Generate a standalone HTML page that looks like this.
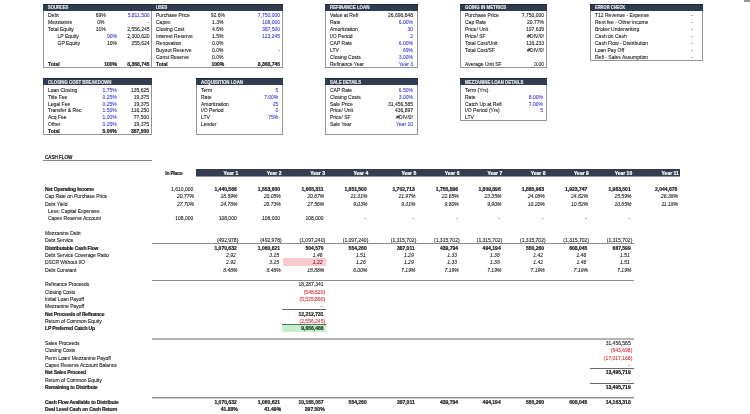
<!DOCTYPE html>
<html><head><meta charset="utf-8"><style>
html,body{margin:0;padding:0;background:#fff;width:750px;height:414px;overflow:hidden;position:relative}
.r{position:absolute}
.t{position:absolute;white-space:nowrap;font-family:"Liberation Sans",sans-serif;font-size:5.0px;line-height:7.0px;color:#1e1e1e}
.b{font-weight:bold}
.i{font-style:italic}
.t{-webkit-text-stroke:0.1px currentColor}
.t.b{-webkit-text-stroke:0.2px currentColor}
#pg{position:absolute;left:0;top:0;width:750px;height:414px;background:#fff;will-change:transform;overflow:hidden}
</style></head><body><div id="pg">
<div class="r" style="left:744px;top:0px;width:6px;height:2px;background:#9a9a9a;"></div>
<div class="r" style="left:43px;top:4px;width:240px;height:64px;box-sizing:border-box;border:1px solid #969696;background:#fff"></div>
<div class="r" style="left:43px;top:4px;width:240px;height:7px;background:#303c52;"></div>
<div class="r" style="left:43px;top:4px;width:240px;height:1px;background:#1e2634;"></div>
<div class="t b" style="top:4.00px;font-size:4.8px;color:#e6e6e6;left:48px;transform-origin:0 0;transform:scaleX(0.854);">SOURCES</div>
<div class="r" style="left:151px;top:4px;width:1px;height:63px;background:#969696;"></div>
<div class="r" style="left:151px;top:4px;width:1px;height:7px;background:#303c52;"></div>
<div class="t b" style="top:4.00px;font-size:4.8px;color:#e6e6e6;left:156px;transform-origin:0 0;transform:scaleX(0.854);">USES</div>
<div class="t" style="top:12.00px;left:48px;">Debt</div>
<div class="t" style="top:12.00px;left:-49.2px;width:300px;text-align:center;">69%</div>
<div class="t" style="top:12.00px;color:#4444d6;left:-150.5px;width:300px;text-align:right;">5,811,500</div>
<div class="t" style="top:19.00px;left:48px;">Mezzanine</div>
<div class="t" style="top:19.00px;left:-49.2px;width:300px;text-align:center;">0%</div>
<div class="t" style="top:19.00px;left:-150.5px;width:300px;text-align:right;">-</div>
<div class="t" style="top:26.00px;left:48px;">Total Equity</div>
<div class="t" style="top:26.00px;left:-49.2px;width:300px;text-align:center;">31%</div>
<div class="t" style="top:26.00px;left:-150.5px;width:300px;text-align:right;">2,556,245</div>
<div class="t" style="top:33.00px;left:57.5px;">LP Equity</div>
<div class="t" style="top:33.00px;color:#4444d6;left:-183px;width:300px;text-align:right;">90%</div>
<div class="t" style="top:33.00px;left:-150.5px;width:300px;text-align:right;">2,300,620</div>
<div class="t" style="top:40.00px;left:57.5px;">GP Equity</div>
<div class="t" style="top:40.00px;left:-183px;width:300px;text-align:right;">10%</div>
<div class="t" style="top:40.00px;left:-150.5px;width:300px;text-align:right;">255,624</div>
<div class="t b" style="top:61.00px;left:48px;">Total</div>
<div class="t b" style="top:61.00px;left:-183px;width:300px;text-align:right;">100%</div>
<div class="t b" style="top:61.00px;left:-150.5px;width:300px;text-align:right;">8,368,745</div>
<div class="t" style="top:12.00px;left:156px;">Purchase Price</div>
<div class="t" style="top:12.00px;left:67.80000000000001px;width:300px;text-align:center;">92.6%</div>
<div class="t" style="top:12.00px;color:#4444d6;left:-20px;width:300px;text-align:right;">7,750,000</div>
<div class="t" style="top:19.00px;left:156px;">Capex</div>
<div class="t" style="top:19.00px;left:67.80000000000001px;width:300px;text-align:center;">1.3%</div>
<div class="t" style="top:19.00px;color:#4444d6;left:-20px;width:300px;text-align:right;">108,000</div>
<div class="t" style="top:26.00px;left:156px;">Closing Cost</div>
<div class="t" style="top:26.00px;left:67.80000000000001px;width:300px;text-align:center;">4.6%</div>
<div class="t" style="top:26.00px;color:#4444d6;left:-20px;width:300px;text-align:right;">387,500</div>
<div class="t" style="top:33.00px;left:156px;">Interest Reserve</div>
<div class="t" style="top:33.00px;left:67.80000000000001px;width:300px;text-align:center;">1.5%</div>
<div class="t" style="top:33.00px;color:#4444d6;left:-20px;width:300px;text-align:right;">123,245</div>
<div class="t" style="top:40.00px;left:156px;">Renovation</div>
<div class="t" style="top:40.00px;left:67.80000000000001px;width:300px;text-align:center;">0.0%</div>
<div class="t" style="top:47.00px;left:156px;">Buyout Reserve</div>
<div class="t" style="top:47.00px;left:67.80000000000001px;width:300px;text-align:center;">0.0%</div>
<div class="t" style="top:47.00px;left:-20px;width:300px;text-align:right;">-</div>
<div class="t" style="top:54.00px;left:156px;">Const Reserve</div>
<div class="t" style="top:54.00px;left:67.80000000000001px;width:300px;text-align:center;">0.0%</div>
<div class="t b" style="top:61.00px;left:156px;">Total</div>
<div class="t b" style="top:61.00px;left:67.80000000000001px;width:300px;text-align:center;">100%</div>
<div class="t b" style="top:61.00px;left:-20px;width:300px;text-align:right;">8,368,745</div>
<div class="r" style="left:325px;top:4px;width:93px;height:64px;box-sizing:border-box;border:1px solid #969696;background:#fff"></div>
<div class="r" style="left:325px;top:4px;width:93px;height:7px;background:#303c52;"></div>
<div class="r" style="left:325px;top:4px;width:93px;height:1px;background:#1e2634;"></div>
<div class="t b" style="top:4.00px;font-size:4.8px;color:#e6e6e6;left:330px;transform-origin:0 0;transform:scaleX(0.917);">REFINANCE LOAN</div>
<div class="t" style="top:12.00px;left:330px;">Value at Refi</div>
<div class="t" style="top:12.00px;left:113px;width:300px;text-align:right;">26,696,848</div>
<div class="t" style="top:19.00px;left:330px;">Rate</div>
<div class="t" style="top:19.00px;color:#4444d6;left:113px;width:300px;text-align:right;">6.00%</div>
<div class="t" style="top:26.00px;left:330px;">Amortization</div>
<div class="t" style="top:26.00px;color:#4444d6;left:113px;width:300px;text-align:right;">30</div>
<div class="t" style="top:33.00px;left:330px;">I/O Period</div>
<div class="t" style="top:33.00px;color:#4444d6;left:113px;width:300px;text-align:right;">2</div>
<div class="t" style="top:40.00px;left:330px;">CAP Rate</div>
<div class="t" style="top:40.00px;color:#4444d6;left:113px;width:300px;text-align:right;">6.00%</div>
<div class="t" style="top:47.00px;left:330px;">LTV</div>
<div class="t" style="top:47.00px;color:#4444d6;left:113px;width:300px;text-align:right;">69%</div>
<div class="t" style="top:54.00px;left:330px;">Closing Costs</div>
<div class="t" style="top:54.00px;color:#4444d6;left:113px;width:300px;text-align:right;">3.00%</div>
<div class="t" style="top:61.00px;left:330px;">Refinance Year</div>
<div class="t" style="top:61.00px;color:#4444d6;left:113px;width:300px;text-align:right;">Year 3</div>
<div class="r" style="left:460px;top:4px;width:87px;height:64px;box-sizing:border-box;border:1px solid #969696;background:#fff"></div>
<div class="r" style="left:460px;top:4px;width:87px;height:7px;background:#303c52;"></div>
<div class="r" style="left:460px;top:4px;width:87px;height:1px;background:#1e2634;"></div>
<div class="t b" style="top:4.00px;font-size:4.8px;color:#e6e6e6;left:465px;transform-origin:0 0;transform:scaleX(0.917);">GOING IN METRICS</div>
<div class="t" style="top:12.00px;left:465px;">Purchase Price</div>
<div class="t" style="top:12.00px;left:244px;width:300px;text-align:right;">7,750,000</div>
<div class="t" style="top:19.00px;left:465px;">Cap Rate</div>
<div class="t" style="top:19.00px;left:244px;width:300px;text-align:right;">20.77%</div>
<div class="t" style="top:26.00px;left:465px;">Price/ Unit</div>
<div class="t" style="top:26.00px;left:244px;width:300px;text-align:right;">107,639</div>
<div class="t" style="top:33.00px;left:465px;">Price/ SF</div>
<div class="t" style="top:33.00px;left:244px;width:300px;text-align:right;">#DIV/0!</div>
<div class="t" style="top:40.00px;left:465px;">Total Cost/Unit</div>
<div class="t" style="top:40.00px;left:244px;width:300px;text-align:right;">116,233</div>
<div class="t" style="top:47.00px;left:465px;">Total Cost/SF</div>
<div class="t" style="top:47.00px;left:244px;width:300px;text-align:right;">#DIV/0!</div>
<div class="t" style="top:61.00px;left:465px;">Average Unit SF</div>
<div class="t" style="top:61.00px;left:244px;width:300px;text-align:right;">0.00</div>
<div class="r" style="left:590px;top:4px;width:113px;height:57px;box-sizing:border-box;border:1px solid #969696;background:#fff"></div>
<div class="r" style="left:590px;top:4px;width:113px;height:7px;background:#303c52;"></div>
<div class="r" style="left:590px;top:4px;width:113px;height:1px;background:#1e2634;"></div>
<div class="t b" style="top:4.00px;font-size:4.8px;color:#e6e6e6;left:595px;transform-origin:0 0;transform:scaleX(0.844);">ERROR CHECK</div>
<div class="t" style="top:12.00px;left:595px;">T12 Revenue - Expense</div>
<div class="t" style="top:12.00px;left:393px;width:300px;text-align:right;">-</div>
<div class="t" style="top:19.00px;left:595px;">Rent fee - Other income</div>
<div class="t" style="top:19.00px;left:393px;width:300px;text-align:right;">-</div>
<div class="t" style="top:26.00px;left:595px;">Broker Underwriting</div>
<div class="t" style="top:26.00px;left:393px;width:300px;text-align:right;">-</div>
<div class="t" style="top:33.00px;left:595px;">Cash on Cash</div>
<div class="t" style="top:33.00px;left:393px;width:300px;text-align:right;">-</div>
<div class="t" style="top:40.00px;left:595px;">Cash Flow - Distribution</div>
<div class="t" style="top:40.00px;left:393px;width:300px;text-align:right;">-</div>
<div class="t" style="top:47.00px;left:595px;">Loan Pay Off</div>
<div class="t" style="top:47.00px;left:393px;width:300px;text-align:right;">-</div>
<div class="t" style="top:54.00px;left:595px;">Refi - Sales Assumption</div>
<div class="t" style="top:54.00px;left:393px;width:300px;text-align:right;">-</div>
<div class="r" style="left:43px;top:78px;width:109px;height:57px;box-sizing:border-box;border:1px solid #969696;background:#fff"></div>
<div class="r" style="left:43px;top:78px;width:109px;height:7px;background:#303c52;"></div>
<div class="r" style="left:43px;top:78px;width:109px;height:1px;background:#1e2634;"></div>
<div class="t b" style="top:79.00px;font-size:4.8px;color:#e6e6e6;left:48px;transform-origin:0 0;transform:scaleX(0.906);">CLOSING COST BREAKDOWN</div>
<div class="t" style="top:87.00px;left:48px;">Loan Closing</div>
<div class="t" style="top:87.00px;color:#4444d6;left:-183.3px;width:300px;text-align:right;">1.75%</div>
<div class="t" style="top:87.00px;left:-151px;width:300px;text-align:right;">135,625</div>
<div class="t" style="top:94.00px;left:48px;">Title Fee</div>
<div class="t" style="top:94.00px;color:#4444d6;left:-183.3px;width:300px;text-align:right;">0.25%</div>
<div class="t" style="top:94.00px;left:-151px;width:300px;text-align:right;">19,375</div>
<div class="t" style="top:101.00px;left:48px;">Legal Fee</div>
<div class="t" style="top:101.00px;color:#4444d6;left:-183.3px;width:300px;text-align:right;">0.25%</div>
<div class="t" style="top:101.00px;left:-151px;width:300px;text-align:right;">19,375</div>
<div class="t" style="top:107.00px;left:48px;">Transfer &amp; Rec</div>
<div class="t" style="top:107.00px;color:#4444d6;left:-183.3px;width:300px;text-align:right;">1.50%</div>
<div class="t" style="top:107.00px;left:-151px;width:300px;text-align:right;">116,250</div>
<div class="t" style="top:114.00px;left:48px;">Acq Fee</div>
<div class="t" style="top:114.00px;color:#4444d6;left:-183.3px;width:300px;text-align:right;">1.00%</div>
<div class="t" style="top:114.00px;left:-151px;width:300px;text-align:right;">77,500</div>
<div class="t" style="top:121.00px;left:48px;">Other</div>
<div class="t" style="top:121.00px;color:#4444d6;left:-183.3px;width:300px;text-align:right;">0.25%</div>
<div class="t" style="top:121.00px;left:-151px;width:300px;text-align:right;">19,375</div>
<div class="t b" style="top:128.00px;left:48px;">Total</div>
<div class="t b" style="top:128.00px;left:-183.3px;width:300px;text-align:right;">5.00%</div>
<div class="t b" style="top:128.00px;left:-151px;width:300px;text-align:right;">387,500</div>
<div class="r" style="left:196px;top:78px;width:87px;height:57px;box-sizing:border-box;border:1px solid #969696;background:#fff"></div>
<div class="r" style="left:196px;top:78px;width:87px;height:7px;background:#303c52;"></div>
<div class="r" style="left:196px;top:78px;width:87px;height:1px;background:#1e2634;"></div>
<div class="t b" style="top:79.00px;font-size:4.8px;color:#e6e6e6;left:201px;transform-origin:0 0;transform:scaleX(0.906);">ACQUISITION LOAN</div>
<div class="t" style="top:87.00px;left:201px;">Term</div>
<div class="t" style="top:87.00px;color:#4444d6;left:-21.69999999999999px;width:300px;text-align:right;">5</div>
<div class="t" style="top:94.00px;left:201px;">Rate</div>
<div class="t" style="top:94.00px;color:#4444d6;left:-21.69999999999999px;width:300px;text-align:right;">7.00%</div>
<div class="t" style="top:101.00px;left:201px;">Amortization</div>
<div class="t" style="top:101.00px;color:#4444d6;left:-21.69999999999999px;width:300px;text-align:right;">25</div>
<div class="t" style="top:107.00px;left:201px;">I/O Period</div>
<div class="t" style="top:107.00px;color:#4444d6;left:-21.69999999999999px;width:300px;text-align:right;">0</div>
<div class="t" style="top:114.00px;left:201px;">LTV</div>
<div class="t" style="top:114.00px;color:#4444d6;left:-21.69999999999999px;width:300px;text-align:right;">75%</div>
<div class="t" style="top:121.00px;left:201px;">Lender</div>
<div class="r" style="left:325px;top:78px;width:93px;height:57px;box-sizing:border-box;border:1px solid #969696;background:#fff"></div>
<div class="r" style="left:325px;top:78px;width:93px;height:7px;background:#303c52;"></div>
<div class="r" style="left:325px;top:78px;width:93px;height:1px;background:#1e2634;"></div>
<div class="t b" style="top:79.00px;font-size:4.8px;color:#e6e6e6;left:330px;transform-origin:0 0;transform:scaleX(0.906);">SALE DETAILS</div>
<div class="t" style="top:87.00px;left:330px;">CAP Rate</div>
<div class="t" style="top:87.00px;color:#4444d6;left:113px;width:300px;text-align:right;">6.50%</div>
<div class="t" style="top:94.00px;left:330px;">Closing Costs</div>
<div class="t" style="top:94.00px;color:#4444d6;left:113px;width:300px;text-align:right;">3.00%</div>
<div class="t" style="top:101.00px;left:330px;">Sale Price</div>
<div class="t" style="top:101.00px;left:113px;width:300px;text-align:right;">31,456,585</div>
<div class="t" style="top:107.00px;left:330px;">Price/ Unit</div>
<div class="t" style="top:107.00px;left:113px;width:300px;text-align:right;">436,897</div>
<div class="t" style="top:114.00px;left:330px;">Price/ SF</div>
<div class="t" style="top:114.00px;left:113px;width:300px;text-align:right;">#DIV/0!</div>
<div class="t" style="top:121.00px;left:330px;">Sale Year</div>
<div class="t" style="top:121.00px;color:#4444d6;left:113px;width:300px;text-align:right;">Year 10</div>
<div class="r" style="left:460px;top:78px;width:87px;height:43px;box-sizing:border-box;border:1px solid #969696;background:#fff"></div>
<div class="r" style="left:460px;top:78px;width:87px;height:7px;background:#303c52;"></div>
<div class="r" style="left:460px;top:78px;width:87px;height:1px;background:#1e2634;"></div>
<div class="t b" style="top:79.00px;font-size:4.8px;color:#e6e6e6;left:465px;transform-origin:0 0;transform:scaleX(0.906);">MEZZANINE LOAN DETAILS</div>
<div class="t" style="top:87.00px;left:465px;">Term (Yrs)</div>
<div class="t" style="top:94.00px;left:465px;">Rate</div>
<div class="t" style="top:94.00px;color:#4444d6;left:243px;width:300px;text-align:right;">8.00%</div>
<div class="t" style="top:101.00px;left:465px;">Catch Up at Refi</div>
<div class="t" style="top:101.00px;color:#4444d6;left:243px;width:300px;text-align:right;">7.00%</div>
<div class="t" style="top:107.00px;left:465px;">I/O Period (Yrs)</div>
<div class="t" style="top:107.00px;color:#4444d6;left:243px;width:300px;text-align:right;">5</div>
<div class="t" style="top:114.00px;left:465px;">LTV</div>
<div class="t" style="top:154.00px;font-size:4.6px;left:45px;-webkit-text-stroke:0.25px currentColor;">CASH FLOW</div>
<div class="r" style="left:43px;top:160px;width:109px;height:1px;background:#858585;"></div>
<div class="r" style="left:196px;top:169px;width:484px;height:7px;background:#323d50;"></div>
<div class="r" style="left:196px;top:176px;width:484px;height:1px;background:#8d95a1;"></div>
<div class="t b" style="top:170.00px;left:-117.5px;width:300px;text-align:right;letter-spacing:-0.2px;">In Place</div>
<div class="t b" style="top:170.00px;color:#fff;left:-61.80000000000001px;width:300px;text-align:right;">Year 1</div>
<div class="t b" style="top:170.00px;color:#fff;left:-18.5px;width:300px;text-align:right;">Year 2</div>
<div class="t b" style="top:170.00px;color:#fff;left:25.0px;width:300px;text-align:right;">Year 3</div>
<div class="t b" style="top:170.00px;color:#fff;left:68.19999999999999px;width:300px;text-align:right;">Year 4</div>
<div class="t b" style="top:170.00px;color:#fff;left:116.19999999999999px;width:300px;text-align:right;">Year 5</div>
<div class="t b" style="top:170.00px;color:#fff;left:159.5px;width:300px;text-align:right;">Year 6</div>
<div class="t b" style="top:170.00px;color:#fff;left:202.2px;width:300px;text-align:right;">Year 7</div>
<div class="t b" style="top:170.00px;color:#fff;left:245.5px;width:300px;text-align:right;">Year 8</div>
<div class="t b" style="top:170.00px;color:#fff;left:288.79999999999995px;width:300px;text-align:right;">Year 9</div>
<div class="t b" style="top:170.00px;color:#fff;left:332.20000000000005px;width:300px;text-align:right;">Year 10</div>
<div class="t b" style="top:170.00px;color:#fff;left:378.79999999999995px;width:300px;text-align:right;">Year 11</div>
<div class="t b" style="top:186.00px;left:45px;letter-spacing:-0.16px;">Net Operating Income</div>
<div class="t" style="top:193.00px;left:45px;letter-spacing:-0.04px;">Cap Rate on Purchase Price</div>
<div class="t" style="top:201.00px;left:45px;letter-spacing:-0.04px;">Debt Yield</div>
<div class="t" style="top:208.00px;left:48px;letter-spacing:-0.04px;">Less: Capital Expenses</div>
<div class="t" style="top:215.00px;left:48px;letter-spacing:-0.04px;">Capex Reserve Account</div>
<div class="t" style="top:230.00px;left:45px;letter-spacing:-0.04px;">Mezzanine Debt</div>
<div class="t" style="top:237.00px;left:45px;letter-spacing:-0.04px;">Debt Service</div>
<div class="t b" style="top:245.00px;left:45px;letter-spacing:-0.16px;">Distributable Cash Flow</div>
<div class="t" style="top:252.00px;left:45px;letter-spacing:-0.04px;">Debt Service Coverage Ratio</div>
<div class="t" style="top:259.00px;left:45px;letter-spacing:-0.04px;">DSCR Without I/O</div>
<div class="t" style="top:267.00px;left:45px;letter-spacing:-0.04px;">Debt Constant</div>
<div class="t" style="top:281.00px;left:45px;letter-spacing:-0.04px;">Refinance Proceeds</div>
<div class="t" style="top:289.00px;left:45px;letter-spacing:-0.04px;">Closing Costs</div>
<div class="t" style="top:296.00px;left:45px;letter-spacing:-0.04px;">Initial Loan Payoff</div>
<div class="t" style="top:303.00px;left:45px;letter-spacing:-0.04px;">Mezzanine Payoff</div>
<div class="t b" style="top:311.00px;left:45px;letter-spacing:-0.16px;">Net Proceeds of Refinance</div>
<div class="t" style="top:318.00px;left:45px;letter-spacing:-0.04px;">Return of Common Equity</div>
<div class="t b" style="top:325.00px;left:45px;letter-spacing:-0.16px;">LP Preferred Catch Up</div>
<div class="t" style="top:340.00px;left:45px;letter-spacing:-0.04px;">Sales Proceeds</div>
<div class="t" style="top:347.00px;left:45px;letter-spacing:-0.04px;">Closing Costs</div>
<div class="t" style="top:355.00px;left:45px;letter-spacing:-0.04px;">Perm Loan/ Mezzanine Payoff</div>
<div class="t" style="top:362.00px;left:45px;letter-spacing:-0.04px;">Capex Reserve Account Balance</div>
<div class="t b" style="top:369.00px;left:45px;letter-spacing:-0.16px;">Net Sales Proceed</div>
<div class="t" style="top:377.00px;left:45px;letter-spacing:-0.04px;">Return of Common Equity</div>
<div class="t b" style="top:384.00px;left:45px;letter-spacing:-0.16px;">Remaining to Distribute</div>
<div class="t b" style="top:399.00px;left:45px;letter-spacing:-0.16px;">Cash Flow Available to Distribute</div>
<div class="t b" style="top:406.00px;left:45px;letter-spacing:-0.16px;">Deal Level Cash on Cash Return</div>
<div class="t" style="top:186.00px;left:-106.69999999999999px;width:300px;text-align:right;">1,610,000</div>
<div class="t b" style="top:186.00px;left:-63.30000000000001px;width:300px;text-align:right;">1,440,566</div>
<div class="t b" style="top:186.00px;left:-20px;width:300px;text-align:right;">1,553,600</div>
<div class="t b" style="top:186.00px;left:23.5px;width:300px;text-align:right;">1,605,811</div>
<div class="t b" style="top:186.00px;left:66.69999999999999px;width:300px;text-align:right;">1,651,500</div>
<div class="t b" style="top:186.00px;left:114.69999999999999px;width:300px;text-align:right;">1,702,713</div>
<div class="t b" style="top:186.00px;left:158px;width:300px;text-align:right;">1,755,896</div>
<div class="t b" style="top:186.00px;left:200.7px;width:300px;text-align:right;">1,809,896</div>
<div class="t b" style="top:186.00px;left:244px;width:300px;text-align:right;">1,865,963</div>
<div class="t b" style="top:186.00px;left:287.29999999999995px;width:300px;text-align:right;">1,923,747</div>
<div class="t b" style="top:186.00px;left:330.70000000000005px;width:300px;text-align:right;">1,983,501</div>
<div class="t b" style="top:186.00px;left:377.29999999999995px;width:300px;text-align:right;">2,044,678</div>
<div class="t i" style="top:193.00px;left:-106.0px;width:300px;text-align:right;">20.77%</div>
<div class="t i" style="top:193.00px;left:-62.60000000000002px;width:300px;text-align:right;">18.59%</div>
<div class="t i" style="top:193.00px;left:-19.30000000000001px;width:300px;text-align:right;">20.05%</div>
<div class="t i" style="top:193.00px;left:24.19999999999999px;width:300px;text-align:right;">20.67%</div>
<div class="t i" style="top:193.00px;left:67.39999999999998px;width:300px;text-align:right;">21.31%</div>
<div class="t i" style="top:193.00px;left:115.39999999999998px;width:300px;text-align:right;">21.97%</div>
<div class="t i" style="top:193.00px;left:158.7px;width:300px;text-align:right;">22.65%</div>
<div class="t i" style="top:193.00px;left:201.39999999999998px;width:300px;text-align:right;">23.35%</div>
<div class="t i" style="top:193.00px;left:244.70000000000005px;width:300px;text-align:right;">24.08%</div>
<div class="t i" style="top:193.00px;left:288.0px;width:300px;text-align:right;">24.82%</div>
<div class="t i" style="top:193.00px;left:331.4000000000001px;width:300px;text-align:right;">25.59%</div>
<div class="t i" style="top:193.00px;left:378.0px;width:300px;text-align:right;">26.38%</div>
<div class="t i" style="top:201.00px;left:-106.0px;width:300px;text-align:right;">27.70%</div>
<div class="t i" style="top:201.00px;left:-62.60000000000002px;width:300px;text-align:right;">24.78%</div>
<div class="t i" style="top:201.00px;left:-19.30000000000001px;width:300px;text-align:right;">26.73%</div>
<div class="t i" style="top:201.00px;left:24.19999999999999px;width:300px;text-align:right;">27.56%</div>
<div class="t i" style="top:201.00px;left:67.39999999999998px;width:300px;text-align:right;">9.03%</div>
<div class="t i" style="top:201.00px;left:115.39999999999998px;width:300px;text-align:right;">9.31%</div>
<div class="t i" style="top:201.00px;left:158.7px;width:300px;text-align:right;">9.60%</div>
<div class="t i" style="top:201.00px;left:201.39999999999998px;width:300px;text-align:right;">9.90%</div>
<div class="t i" style="top:201.00px;left:244.70000000000005px;width:300px;text-align:right;">10.20%</div>
<div class="t i" style="top:201.00px;left:288.0px;width:300px;text-align:right;">10.52%</div>
<div class="t i" style="top:201.00px;left:331.4000000000001px;width:300px;text-align:right;">10.85%</div>
<div class="t i" style="top:201.00px;left:378.0px;width:300px;text-align:right;">11.18%</div>
<div class="t" style="top:215.00px;left:-106.69999999999999px;width:300px;text-align:right;">108,000</div>
<div class="t" style="top:215.00px;left:-63.30000000000001px;width:300px;text-align:right;">108,000</div>
<div class="t" style="top:215.00px;left:-20px;width:300px;text-align:right;">108,000</div>
<div class="t" style="top:215.00px;left:23.5px;width:300px;text-align:right;">108,000</div>
<div class="t" style="top:215.00px;left:66.19999999999999px;width:300px;text-align:right;">-</div>
<div class="t" style="top:215.00px;left:114.19999999999999px;width:300px;text-align:right;">-</div>
<div class="t" style="top:215.00px;left:157.5px;width:300px;text-align:right;">-</div>
<div class="t" style="top:215.00px;left:200.2px;width:300px;text-align:right;">-</div>
<div class="t" style="top:215.00px;left:243.5px;width:300px;text-align:right;">-</div>
<div class="t" style="top:215.00px;left:286.79999999999995px;width:300px;text-align:right;">-</div>
<div class="t" style="top:215.00px;left:330.20000000000005px;width:300px;text-align:right;">-</div>
<div class="r" style="left:152px;top:243px;width:482px;height:1px;background:#8c8c8c;"></div>
<div class="t" style="top:237.00px;left:-61.70000000000002px;width:300px;text-align:right;">(492,978)</div>
<div class="t" style="top:237.00px;left:-18.399999999999977px;width:300px;text-align:right;">(492,978)</div>
<div class="t" style="top:237.00px;left:25.100000000000023px;width:300px;text-align:right;">(1,097,240)</div>
<div class="t" style="top:237.00px;left:68.30000000000001px;width:300px;text-align:right;">(1,097,240)</div>
<div class="t" style="top:237.00px;left:116.30000000000001px;width:300px;text-align:right;">(1,315,702)</div>
<div class="t" style="top:237.00px;left:159.60000000000002px;width:300px;text-align:right;">(1,315,702)</div>
<div class="t" style="top:237.00px;left:202.3px;width:300px;text-align:right;">(1,315,702)</div>
<div class="t" style="top:237.00px;left:245.60000000000002px;width:300px;text-align:right;">(1,315,702)</div>
<div class="t" style="top:237.00px;left:288.9px;width:300px;text-align:right;">(1,315,702)</div>
<div class="t" style="top:237.00px;left:332.30000000000007px;width:300px;text-align:right;">(1,315,702)</div>
<div class="t b" style="top:245.00px;left:-63.30000000000001px;width:300px;text-align:right;">1,070,632</div>
<div class="t b" style="top:245.00px;left:-20px;width:300px;text-align:right;">1,060,621</div>
<div class="t b" style="top:245.00px;left:23.5px;width:300px;text-align:right;">504,570</div>
<div class="t b" style="top:245.00px;left:66.69999999999999px;width:300px;text-align:right;">554,260</div>
<div class="t b" style="top:245.00px;left:114.69999999999999px;width:300px;text-align:right;">387,011</div>
<div class="t b" style="top:245.00px;left:158px;width:300px;text-align:right;">439,794</div>
<div class="t b" style="top:245.00px;left:200.7px;width:300px;text-align:right;">494,194</div>
<div class="t b" style="top:245.00px;left:244px;width:300px;text-align:right;">550,260</div>
<div class="t b" style="top:245.00px;left:287.29999999999995px;width:300px;text-align:right;">608,045</div>
<div class="t b" style="top:245.00px;left:330.70000000000005px;width:300px;text-align:right;">667,599</div>
<div class="t i" style="top:252.00px;left:-64.30000000000001px;width:300px;text-align:right;">2.92</div>
<div class="t i" style="top:252.00px;left:-21px;width:300px;text-align:right;">3.15</div>
<div class="t i" style="top:252.00px;left:22.5px;width:300px;text-align:right;">1.46</div>
<div class="t i" style="top:252.00px;left:65.69999999999999px;width:300px;text-align:right;">1.51</div>
<div class="t i" style="top:252.00px;left:113.69999999999999px;width:300px;text-align:right;">1.29</div>
<div class="t i" style="top:252.00px;left:157px;width:300px;text-align:right;">1.33</div>
<div class="t i" style="top:252.00px;left:199.7px;width:300px;text-align:right;">1.38</div>
<div class="t i" style="top:252.00px;left:243px;width:300px;text-align:right;">1.42</div>
<div class="t i" style="top:252.00px;left:286.29999999999995px;width:300px;text-align:right;">1.46</div>
<div class="t i" style="top:252.00px;left:329.70000000000005px;width:300px;text-align:right;">1.51</div>
<div class="r" style="left:282.5px;top:258.3px;width:43.5px;height:7.3px;background:#f9cad2;"></div>
<div class="t i" style="top:259.00px;left:-64.30000000000001px;width:300px;text-align:right;">2.92</div>
<div class="t i" style="top:259.00px;left:-21px;width:300px;text-align:right;">3.15</div>
<div class="t i" style="top:259.00px;left:65.69999999999999px;width:300px;text-align:right;">1.26</div>
<div class="t i" style="top:259.00px;left:113.69999999999999px;width:300px;text-align:right;">1.29</div>
<div class="t i" style="top:259.00px;left:157px;width:300px;text-align:right;">1.33</div>
<div class="t i" style="top:259.00px;left:199.7px;width:300px;text-align:right;">1.38</div>
<div class="t i" style="top:259.00px;left:243px;width:300px;text-align:right;">1.42</div>
<div class="t i" style="top:259.00px;left:286.29999999999995px;width:300px;text-align:right;">1.46</div>
<div class="t i" style="top:259.00px;left:329.70000000000005px;width:300px;text-align:right;">1.51</div>
<div class="t i" style="top:259.00px;color:#7a2030;left:22.5px;width:300px;text-align:right;">1.22</div>
<div class="t i" style="top:267.00px;left:-62.60000000000002px;width:300px;text-align:right;">8.48%</div>
<div class="t i" style="top:267.00px;left:-19.30000000000001px;width:300px;text-align:right;">8.48%</div>
<div class="t i" style="top:267.00px;left:24.19999999999999px;width:300px;text-align:right;">18.88%</div>
<div class="t i" style="top:267.00px;left:67.39999999999998px;width:300px;text-align:right;">6.00%</div>
<div class="t i" style="top:267.00px;left:115.39999999999998px;width:300px;text-align:right;">7.19%</div>
<div class="t i" style="top:267.00px;left:158.7px;width:300px;text-align:right;">7.19%</div>
<div class="t i" style="top:267.00px;left:201.39999999999998px;width:300px;text-align:right;">7.19%</div>
<div class="t i" style="top:267.00px;left:244.70000000000005px;width:300px;text-align:right;">7.19%</div>
<div class="t i" style="top:267.00px;left:288.0px;width:300px;text-align:right;">7.19%</div>
<div class="t i" style="top:267.00px;left:331.4000000000001px;width:300px;text-align:right;">7.19%</div>
<div class="r" style="left:152px;top:280px;width:482px;height:1px;background:#8c8c8c;"></div>
<div class="t" style="top:281.00px;left:23.5px;width:300px;text-align:right;">18,287,341</div>
<div class="t" style="top:289.00px;color:#d9343f;left:25.100000000000023px;width:300px;text-align:right;">(548,620)</div>
<div class="t" style="top:296.00px;color:#d9343f;left:25.100000000000023px;width:300px;text-align:right;">(5,525,890)</div>
<div class="t" style="top:303.00px;left:22.5px;width:300px;text-align:right;">-</div>
<div class="r" style="left:281.5px;top:309px;width:44.5px;height:1px;background:#6a6a6a;"></div>
<div class="t b" style="top:311.00px;left:23.5px;width:300px;text-align:right;">12,212,731</div>
<div class="t" style="top:318.00px;color:#d9343f;left:25.100000000000023px;width:300px;text-align:right;">(2,556,245)</div>
<div class="r" style="left:281.5px;top:324px;width:44.5px;height:7.5px;background:#c6edcc;"></div>
<div class="r" style="left:281.5px;top:324px;width:44.5px;height:1px;background:#4f7a55;"></div>
<div class="t b" style="top:325.00px;color:#1c3a1f;left:23.5px;width:300px;text-align:right;">9,656,486</div>
<div class="r" style="left:152px;top:338px;width:482px;height:2px;background:#b4b4b4;"></div>
<div class="t" style="top:340.00px;left:330.70000000000005px;width:300px;text-align:right;">31,456,585</div>
<div class="t" style="top:347.00px;color:#d9343f;left:332.30000000000007px;width:300px;text-align:right;">(943,698)</div>
<div class="t" style="top:355.00px;color:#d9343f;left:332.30000000000007px;width:300px;text-align:right;">(17,017,168)</div>
<div class="t" style="top:362.00px;left:329.70000000000005px;width:300px;text-align:right;">-</div>
<div class="r" style="left:590px;top:368.3px;width:43.5px;height:1px;background:#6a6a6a;"></div>
<div class="t b" style="top:369.00px;left:330.70000000000005px;width:300px;text-align:right;">13,495,719</div>
<div class="t" style="top:377.00px;left:329.70000000000005px;width:300px;text-align:right;">-</div>
<div class="r" style="left:590px;top:383px;width:43.5px;height:1px;background:#6a6a6a;"></div>
<div class="t b" style="top:384.00px;left:330.70000000000005px;width:300px;text-align:right;">13,495,719</div>
<div class="r" style="left:152px;top:397px;width:482px;height:1px;background:#8c8c8c;"></div>
<div class="r" style="left:152px;top:398px;width:482px;height:1px;background:#d0d0d0;"></div>
<div class="t b" style="top:399.00px;left:-63.30000000000001px;width:300px;text-align:right;">1,070,632</div>
<div class="t b" style="top:399.00px;left:-20px;width:300px;text-align:right;">1,060,621</div>
<div class="t b" style="top:399.00px;left:23.5px;width:300px;text-align:right;">10,165,057</div>
<div class="t b" style="top:399.00px;left:66.69999999999999px;width:300px;text-align:right;">554,260</div>
<div class="t b" style="top:399.00px;left:114.69999999999999px;width:300px;text-align:right;">387,011</div>
<div class="t b" style="top:399.00px;left:158px;width:300px;text-align:right;">439,794</div>
<div class="t b" style="top:399.00px;left:200.7px;width:300px;text-align:right;">494,194</div>
<div class="t b" style="top:399.00px;left:244px;width:300px;text-align:right;">550,260</div>
<div class="t b" style="top:399.00px;left:287.29999999999995px;width:300px;text-align:right;">608,045</div>
<div class="t b" style="top:399.00px;left:330.70000000000005px;width:300px;text-align:right;">14,163,318</div>
<div class="t b" style="top:406.00px;left:-62.20000000000002px;width:300px;text-align:right;">41.88%</div>
<div class="t b" style="top:406.00px;left:-18.899999999999977px;width:300px;text-align:right;">41.49%</div>
<div class="t b" style="top:406.00px;left:24.600000000000023px;width:300px;text-align:right;">397.50%</div>
</div></body></html>
